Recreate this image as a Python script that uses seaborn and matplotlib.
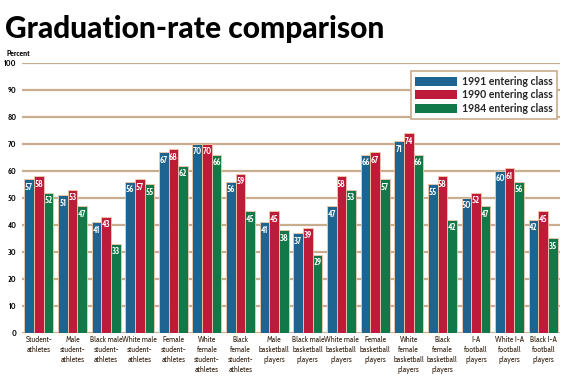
import matplotlib
matplotlib.use("Agg")
import matplotlib.pyplot as plt
import seaborn as sns
import pandas as pd

# categories (x axis labels) and the three series
categories = [
    "Student-\nathletes", "Male\nstudent-\nathletes", "Black male\nstudent-\nathletes",
    "White male\nstudent-\nathletes", "Female\nstudent-\nathletes", "White\nfemale\nstudent-\nathletes",
    "Black\nfemale\nstudent-\nathletes", "Male\nbasketball\nplayers", "Black male\nbasketball\nplayers",
    "White male\nbasketball\nplayers", "Female\nbasketball\nplayers", "White\nfemale\nbasketball\nplayers",
    "Black\nfemale\nbasketball\nplayers", "I-A\nfootball\nplayers", "White I-A\nfootball\nplayers",
    "Black I-A\nfootball\nplayers",
]
class_1991 = [57, 51, 41, 56, 67, 70, 56, 41, 37, 47, 66, 71, 55, 50, 60, 42]
class_1990 = [58, 53, 43, 57, 68, 70, 59, 45, 39, 58, 67, 74, 58, 52, 61, 45]
class_1984 = [52, 47, 33, 55, 62, 66, 45, 38, 29, 53, 57, 66, 42, 47, 56, 35]
series_names = ["1991 entering class", "1990 entering class", "1984 entering class"]
colors = ["#0a68a3", "#d9002b", "#00894a"]
grid_col = "#c9ad8f"
text_col = "#3b2a1c"

rows = []
for name, vals in zip(series_names, [class_1991, class_1990, class_1984]):
    for c, v in zip(categories, vals):
        rows.append({"cat": c, "series": name, "val": v})
df = pd.DataFrame(rows)

sns.set_style("white")
cond = ["Cabin Condensed", "Liberation Sans Narrow", "DejaVu Sans"]
heavy = ["Lato", "DejaVu Sans"]
plt.rcParams["font.family"] = cond

fig = plt.figure(figsize=(5.64, 3.84), dpi=100)
ax = fig.add_axes([0.039, 0.133, 0.954, 0.703])

sns.barplot(data=df, x="cat", y="val", hue="series", palette=colors,
            width=0.86, gap=0, edgecolor="#f3c9a8", linewidth=0.6, ax=ax, zorder=3)

for cont in ax.containers:
    ax.bar_label(cont, padding=-9, color="white", fontsize=6.5, fontweight="bold")

ax.set_ylim(0, 100)
ax.set_xlim(-0.5, len(categories) - 0.5)
ax.set_yticks(range(0, 101, 10))
ax.yaxis.grid(True, color=grid_col, linewidth=1.6, zorder=0)
ax.set_axisbelow(True)
for s in ax.spines.values():
    s.set_visible(False)
ax.tick_params(axis="both", length=0)
ax.tick_params(axis="x", pad=2)
ax.tick_params(axis="y", pad=4)
ax.set_yticklabels([str(t) for t in range(0, 101, 10)], fontsize=6, fontweight="bold", color="black")
ax.set_xticks(range(len(categories)))
ax.set_xticklabels(categories, fontsize=5.8, color=text_col, linespacing=1.35, va="top")
ax.set_xlabel("")
ax.set_ylabel("")

fig.text(0.012, 0.855, "Percent", fontsize=6, fontweight="bold", color="black")
fig.text(0.008, 0.9, "Graduation-rate comparison", fontsize=21.5, fontweight="black",
         family=heavy, color="black")

leg = ax.legend(loc="upper right", bbox_to_anchor=(1.005, 0.99), frameon=True, fancybox=False,
                handlelength=3.9, handleheight=0.95, handletextpad=0.5, labelspacing=0.25,
                borderpad=0.45, prop={"family": heavy, "weight": "bold", "size": 7.6})
leg.get_frame().set_edgecolor(grid_col)
leg.get_frame().set_linewidth(1.2)
leg.get_frame().set_facecolor("white")
leg.get_frame().set_alpha(1)
leg.set_zorder(5)
for h in leg.legend_handles:
    h.set_edgecolor("none")

fig.savefig("out.png", dpi=100)
